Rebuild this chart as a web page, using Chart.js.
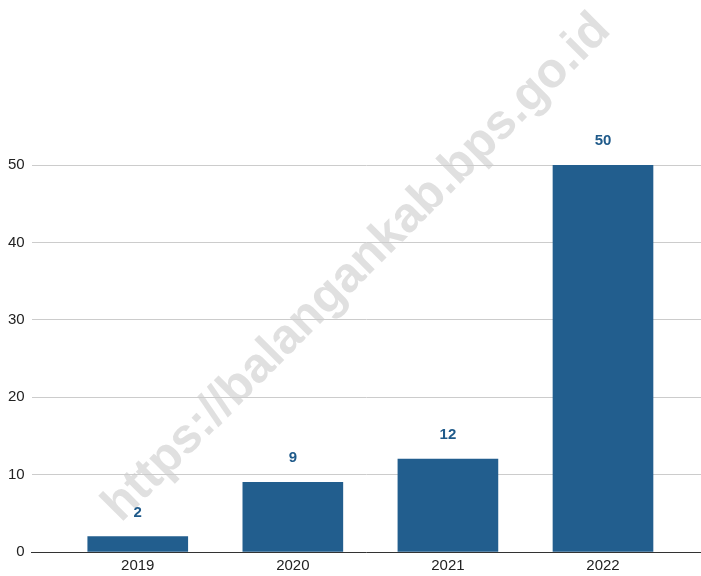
<!DOCTYPE html>
<html>
<head>
<meta charset="utf-8">
<script src="https://cdn.jsdelivr.net/npm/chart.js@4"></script>
<style>
  html, body { margin: 0; padding: 0; background: #fff; }
  #wrap { width: 701px; height: 576px; position: relative; }
</style>
</head>
<body>
<div id="wrap"><canvas id="chart"></canvas></div>
<script>
// data
const years = ["2019", "2020", "2021", "2022"];
const values = [2, 9, 12, 50];
const yTicks = [0, 10, 20, 30, 40, 50];
const watermark = "https://balangankab.bps.go.id";

const BAR = "#225e8e";
const LABEL = "#1f5a8a";

// value labels above each bar
const valueLabels = {
  id: "valueLabels",
  afterDatasetsDraw(chart) {
    const ctx = chart.ctx;
    const meta = chart.getDatasetMeta(0);
    ctx.save();
    ctx.font = "bold 15px 'Liberation Sans', Arial, sans-serif";
    ctx.fillStyle = LABEL;
    ctx.textAlign = "center";
    ctx.textBaseline = "middle";
    meta.data.forEach((bar, i) => {
      ctx.fillText(String(values[i]), bar.x, bar.y - 24);
    });
    ctx.restore();
  },
};

// diagonal site watermark, under the grid
const stamp = {
  id: "stamp",
  beforeDraw(chart) {
    const ctx = chart.ctx;
    ctx.save();
    ctx.font = "bold 50px 'Liberation Sans', Arial, sans-serif";
    const w = ctx.measureText(watermark).width;
    const size = 50 * 695 / w;
    ctx.font = `bold ${size}px 'Liberation Sans', Arial, sans-serif`;
    ctx.translate(357, 268);
    ctx.rotate(-45 * Math.PI / 180);
    ctx.fillStyle = "#e0e0e0";
    ctx.textAlign = "center";
    ctx.textBaseline = "middle";
    ctx.fillText(watermark, 0, 0);
    ctx.restore();
  },
};

new Chart(document.getElementById("chart"), {
  type: "bar",
  data: {
    datasets: [{
      data: years.map((y, i) => ({ x: i, y: values[i] })),
      backgroundColor: BAR,
      barThickness: 100,
    }],
  },
  options: {
    responsive: true,
    maintainAspectRatio: false,
    animation: false,
    layout: { padding: { top: 165, left: 1, right: 0, bottom: 0 } },
    plugins: { legend: { display: false }, tooltip: { enabled: false } },
    scales: {
      x: {
        type: "linear",
        bounds: "data",
        offset: false,
        min: -0.684,
        max: 3.632,
        grid: { display: false, drawTicks: false },
        border: { display: true, color: "#333", width: 1 },
        afterBuildTicks: (scale) => { scale.ticks = years.map((y, i) => ({ value: i })); },
        afterFit: (scale) => { scale.height = 24; },
        ticks: {
          padding: 5,
          color: "#222",
          font: { family: "'Liberation Sans', Arial, sans-serif", size: 15 },
          callback: (v) => years[v],
        },
      },
      y: {
        min: 0,
        max: 50,
        afterBuildTicks: (scale) => { scale.ticks = yTicks.map((v) => ({ value: v })); },
        grid: { color: "#cccccc", drawTicks: false },
        border: { display: false },
        ticks: {
          padding: 7,
          color: "#222",
          font: { family: "'Liberation Sans', Arial, sans-serif", size: 15 },
        },
      },
    },
  },
  plugins: [valueLabels, stamp],
});
</script>
</body>
</html>
